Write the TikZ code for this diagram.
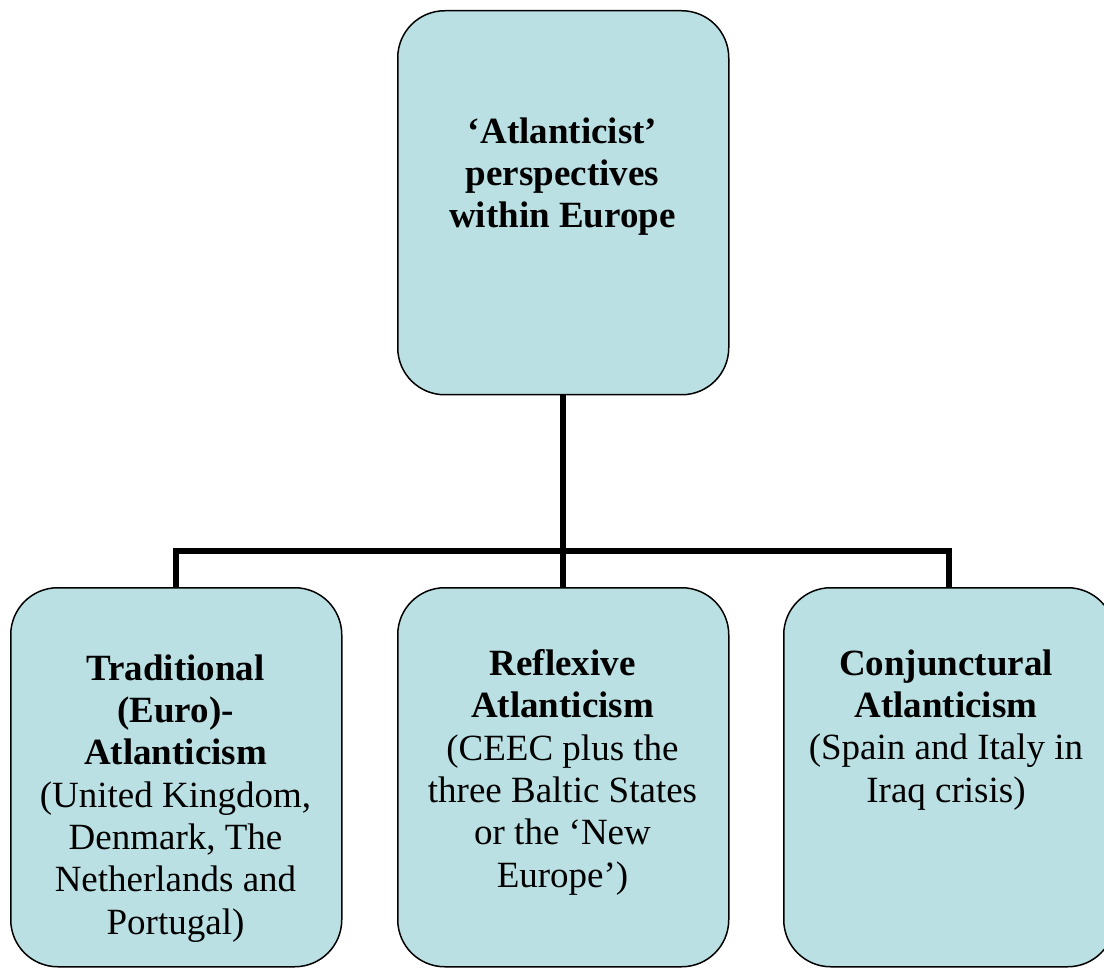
\documentclass[tikz,border=0pt]{standalone}
\usepackage{fontspec}
\setmainfont{Liberation Serif}
\definecolor{boxfill}{RGB}{186,224,227}
\begin{document}
\begin{tikzpicture}[x=1pt,y=-1pt,
  box/.style={draw=black,line width=1.5pt,fill=boxfill,rounded corners=47pt,
    minimum width=331pt,inner sep=0pt,anchor=north west},
  conn/.style={draw=black,line width=6pt,line join=miter,line cap=butt},
  lbl/.style={align=center,inner sep=0pt,anchor=base,
    font=\fontsize{37}{42.3}\selectfont}]
\useasboundingbox (0,0) rectangle (1104,968);
\begin{scope}
\clip (0,0) rectangle (1104,968);
\node[box,minimum height=384pt] (top) at (397,10) {};
\node[box,minimum height=379pt] (left) at (10,587) {};
\node[box,minimum height=379pt] (mid) at (397,587) {};
\node[box,minimum height=379pt] (right) at (783,587) {};
\end{scope}
\coordinate (bar) at (0,551);
\draw[conn] (left.north) -- (left.north |- bar) -- (right.north |- bar) -- (right.north);
\draw[conn] (top.south) -- (mid.north);
\node[lbl] (ttop) at (562.5,228) {\textbf{‘Atlanticist’}\\\textbf{perspectives}\\\textbf{within Europe}};
\node[lbl] (tleft) at (175.5,934) {\textbf{Traditional}\\\textbf{(Euro)-}\\\textbf{Atlanticism}\\(United Kingdom,\\Denmark, The\\Netherlands and\\Portugal)};
\node[lbl] (tmid) at (562.5,887) {\textbf{Reflexive}\\\textbf{Atlanticism}\\(CEEC plus the\\three Baltic States\\or the ‘New\\Europe’)};
\node[lbl] (tright) at (946,802) {\textbf{Conjunctural}\\\textbf{Atlanticism}\\(Spain and Italy in\\Iraq crisis)};
\end{tikzpicture}
\end{document}
